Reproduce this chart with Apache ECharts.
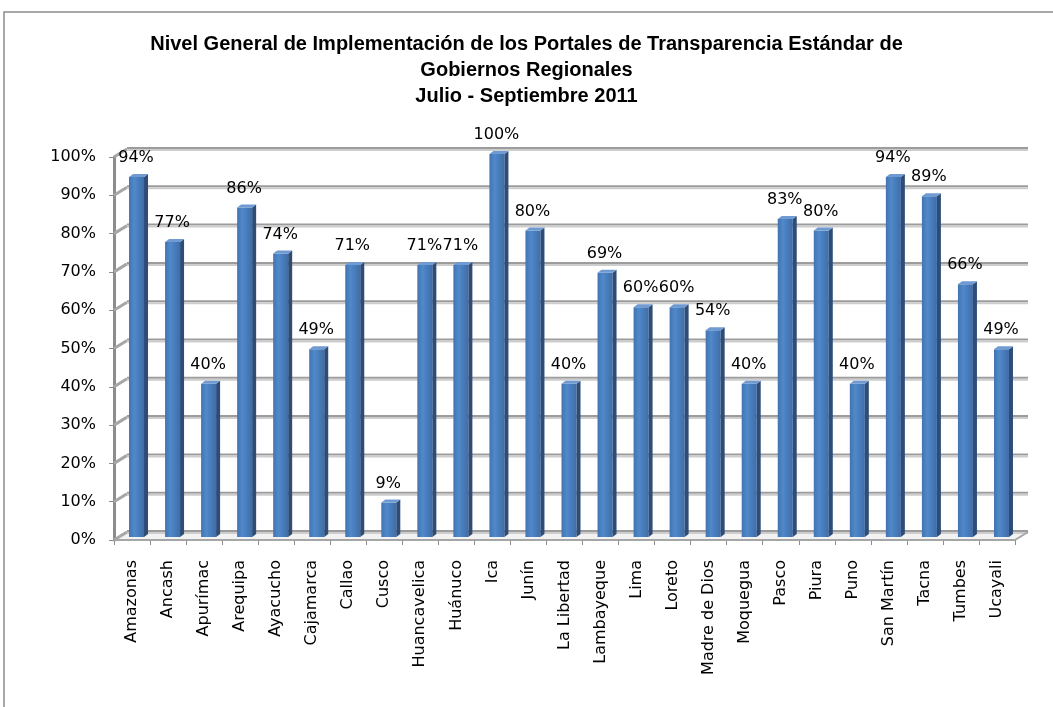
<!DOCTYPE html>
<html lang="es">
<head>
    <meta charset="UTF-8">
    <title>Portales de Transparencia</title>
    <script src="https://cdn.jsdelivr.net/npm/echarts@6/dist/echarts.min.js"></script>
    <style>
        html, body { margin: 0; padding: 0; background: #fff; }
        #chart { width: 1053px; height: 707px; }
    </style>
</head>
<body>
<div id="chart"></div>
<script type="text/javascript">
    // datos
    var regiones = ['Amazonas', 'Ancash', 'Apurímac', 'Arequipa', 'Ayacucho', 'Cajamarca', 'Callao', 'Cusco',
        'Huancavelica', 'Huánuco', 'Ica', 'Junín', 'La Libertad', 'Lambayeque', 'Lima', 'Loreto',
        'Madre de Dios', 'Moquegua', 'Pasco', 'Piura', 'Puno', 'San Martín', 'Tacna', 'Tumbes', 'Ucayali'];
    var nivel = [0.94, 0.77, 0.40, 0.86, 0.74, 0.49, 0.71, 0.09, 0.71, 0.71, 1.00, 0.80, 0.40, 0.69, 0.60,
        0.60, 0.54, 0.40, 0.83, 0.80, 0.40, 0.94, 0.89, 0.66, 0.49];
    var ticks = [0, 0.1, 0.2, 0.3, 0.4, 0.5, 0.6, 0.7, 0.8, 0.9, 1.0];

    var DX = 13, DY = -8; // profundidad de la pared de fondo
    var fuente = 'DejaVu Sans';

    function pct(v) {
        return Math.round(v * 100) + '%';
    }

    // pared de fondo: lineas de la rejilla + diagonales del lateral
    function renderWall(params, api) {
        var cs = params.coordSys;
        var v = api.value(0);
        var y = api.coord([0, v])[1];
        var children = [
            {type: 'line', shape: {x1: cs.x, y1: y, x2: cs.x + DX, y2: y + DY},
                style: {stroke: '#A6A6A6', lineWidth: 3}},
            {type: 'line', shape: {x1: cs.x + DX, y1: y + DY - 1, x2: cs.x + cs.width + DX, y2: y + DY - 1},
                style: {stroke: '#9C9C9C', lineWidth: 2}},
            {type: 'line', shape: {x1: cs.x + DX, y1: y + DY + 1, x2: cs.x + cs.width + DX, y2: y + DY + 1},
                style: {stroke: '#CDCDCD', lineWidth: 2}}
        ];
        if (v === 0) {
            // suelo
            children.unshift({type: 'polygon', shape: {points: [[cs.x, y], [cs.x + DX, y + DY],
                        [cs.x + cs.width + DX, y + DY], [cs.x + cs.width, y]]},
                style: {fill: '#F2F2F2'}});
            children.push({type: 'line', shape: {x1: cs.x, y1: y, x2: cs.x + cs.width, y2: y},
                style: {stroke: '#A6A6A6', lineWidth: 2}});
            children.push({type: 'line', shape: {x1: cs.x + cs.width, y1: y, x2: cs.x + cs.width + DX, y2: y + DY},
                style: {stroke: '#A6A6A6', lineWidth: 2}});
        }
        return {type: 'group', children: children};
    }

    // barras con aspecto 3D
    function renderBar(params, api) {
        var idx = api.value(0);
        var v = api.value(1);
        var p0 = api.coord([idx, 0]);
        var p1 = api.coord([idx, v]);
        var c = p0[0];
        var bottom = p0[1] - 3, top = p1[1] - 3;
        var l = c - 3, r = c + 12, d = 4, h = 3;
        return {
            type: 'group',
            children: [
                {type: 'rect', shape: {x: l, y: top, width: r - l, height: bottom - top},
                    style: {fill: new echarts.graphic.LinearGradient(0, 0, 1, 0, [
                            {offset: 0, color: '#4373B0'},
                            {offset: 0.35, color: '#5089CB'},
                            {offset: 1, color: '#3F6DA8'}])}},
                {type: 'polygon', shape: {points: [[r, top], [r + d, top - h], [r + d, bottom - h], [r, bottom]]},
                    style: {fill: '#2D4C78'}},
                {type: 'polygon', shape: {points: [[l, top], [l + d, top - h], [r + d, top - h], [r, top]]},
                    style: {fill: '#6F9AD2'}},
                {type: 'text', x: c + 4, y: top - 19,
                    style: {text: pct(v), fill: '#000', font: '16px "' + fuente + '"',
                        align: 'center', verticalAlign: 'middle'}}
            ]
        };
    }

    var chart = echarts.init(document.getElementById('chart'));
    var option = {
        backgroundColor: '#fff',
        animation: false,
        title: {
            text: 'Nivel General de Implementación de los Portales de Transparencia Estándar de\nGobiernos Regionales\nJulio - Septiembre 2011',
            left: 'center',
            top: 31,
            padding: 0,
            textStyle: {
                fontFamily: 'Liberation Sans',
                fontWeight: 'bold',
                fontSize: 20,
                lineHeight: 26,
                color: '#000'
            }
        },
        graphic: [{
            type: 'rect',
            shape: {x: 4, y: 12, width: 1100, height: 800},
            style: {fill: null, stroke: '#8C8C8C', lineWidth: 1.5},
            z: -10
        }],
        grid: {left: 114, right: 38, top: 157, bottom: 167},
        xAxis: {
            type: 'category',
            data: regiones,
            axisLine: {show: false},
            axisTick: {show: true, alignWithLabel: false, length: 5, lineStyle: {color: '#8C8C8C'}},
            axisLabel: {
                rotate: 90,
                interval: 0,
                margin: 20,
                fontFamily: fuente,
                fontSize: 16,
                color: '#000'
            }
        },
        yAxis: {
            type: 'value',
            min: 0,
            max: 1,
            interval: 0.1,
            axisLine: {show: true, lineStyle: {color: '#8C8C8C', width: 3}},
            axisTick: {show: true, length: 5, lineStyle: {color: '#8C8C8C'}},
            splitLine: {show: false},
            axisLabel: {
                formatter: pct,
                margin: 18,
                fontFamily: fuente,
                fontSize: 16,
                color: '#000',
                padding: [6, 0, 0, 0]
            }
        },
        series: [
            {
                name: 'pared',
                type: 'custom',
                renderItem: renderWall,
                data: ticks.map(function (t) { return [t]; }),
                encode: {y: 0},
                silent: true,
                z: 1
            },
            {
                name: 'Nivel',
                type: 'custom',
                renderItem: renderBar,
                data: nivel.map(function (v, i) { return [i, v]; }),
                encode: {x: 0, y: 1},
                z: 5
            }
        ]
    };
    chart.setOption(option);
</script>
</body>
</html>
